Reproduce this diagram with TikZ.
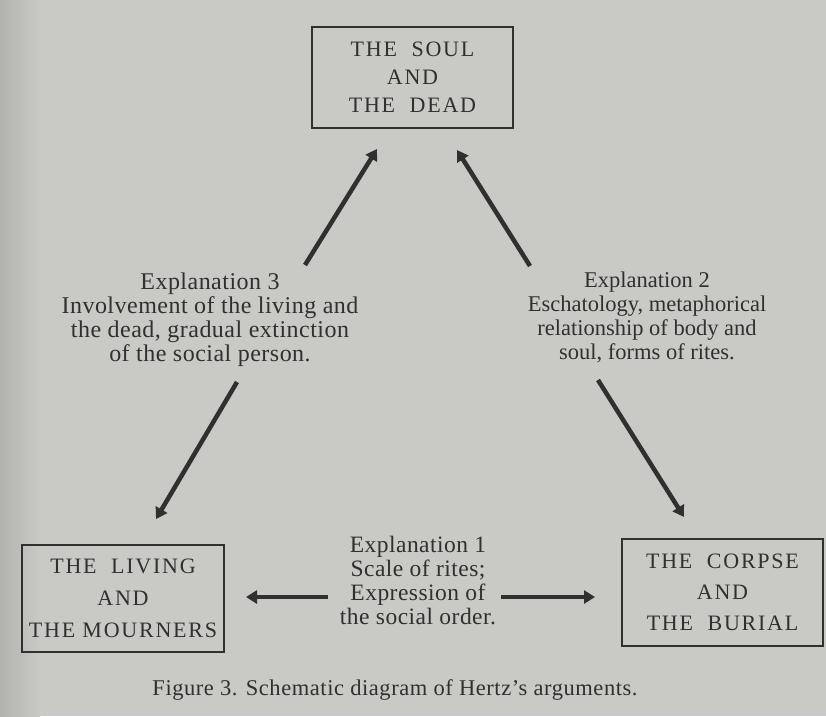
\documentclass[tikz,border=0pt]{standalone}
\usepackage{fontspec}
\setmainfont{Liberation Serif}
\usetikzlibrary{arrows.meta}
\definecolor{paper}{HTML}{C9C9C5}
\definecolor{paperdark}{HTML}{B2B2AE}
\definecolor{ink}{HTML}{303030}
\tikzset{
  box/.style={draw=ink, line width=1.8pt, rectangle, inner sep=0pt, align=center, text=ink},
  expl/.style={align=center, inner sep=0pt, text=ink, font=\fontsize{23.5}{24}\selectfont\addfontfeature{LetterSpace=2}},
  arr/.style={draw=ink, line width=4.5pt, -{Triangle[length=11pt,width=13pt]}},
}
\begin{document}
\begin{tikzpicture}[x=1pt,y=-1pt]
\useasboundingbox (0,0) rectangle (826,716);
\fill[paper] (0,0) rectangle (826,716);
\shade[left color=paperdark, right color=paper] (0,0) rectangle (40,716);
% boxes
\node[box, minimum width=201pt, minimum height=101pt, font=\fontsize{22}{28}\selectfont\addfontfeature{LetterSpace=8}] (soul) at (412.5,77.5)
  {THE\ \ SOUL\\AND\\THE\ \ DEAD};
\node[box, minimum width=202pt, minimum height=107pt, font=\fontsize{22}{32}\selectfont\addfontfeature{LetterSpace=8}] (living) at (123,598.5)
  {THE\ \ LIVING\\AND\\THE MOURNERS};
\node[box, minimum width=201pt, minimum height=107pt, font=\fontsize{22}{31}\selectfont\addfontfeature{LetterSpace=8}] (corpse) at (722.5,592.5)
  {THE\ \ CORPSE\\AND\\THE\ \ BURIAL};
% explanations
\node[expl, font=\fontsize{24}{24}\selectfont\addfontfeature{LetterSpace=2}] (e3) at (210,320) {Explanation 3\\Involvement of the living and\\the dead, gradual extinction\\of the social person.};
\node[expl, font=\fontsize{22.5}{24}\selectfont] (e2) at (647,317) {Explanation 2\\Eschatology, metaphorical\\relationship of body and\\soul, forms of rites.};
\node[expl] (e1) at (418,580) {Explanation 1\\Scale of rites;\\Expression of\\the social order.};
\node[expl, font=\fontsize{22.5}{24}\selectfont\addfontfeature{LetterSpace=2.5}] (cap) at (395,690) {Figure 3. Schematic diagram of Hertz's arguments.};
% arrow end points
\coordinate (a1s) at (305,265); \coordinate (a1e) at (377,149);
\coordinate (a2s) at (530,266); \coordinate (a2e) at (457,150);
\coordinate (a3s) at (237,382); \coordinate (a3e) at (156,519);
\coordinate (a4s) at (598,380); \coordinate (a4e) at (684,517);
\coordinate (a5s) at (328,597); \coordinate (a5e) at (246,597);
\coordinate (a6s) at (501,597); \coordinate (a6e) at (595,597);
\draw[arr] (a1s) -- (a1e);
\draw[arr] (a2s) -- (a2e);
\draw[arr] (a3s) -- (a3e);
\draw[arr] (a4s) -- (a4e);
\draw[arr] (a5s) -- (a5e);
\draw[arr] (a6s) -- (a6e);
\end{tikzpicture}
\end{document}
